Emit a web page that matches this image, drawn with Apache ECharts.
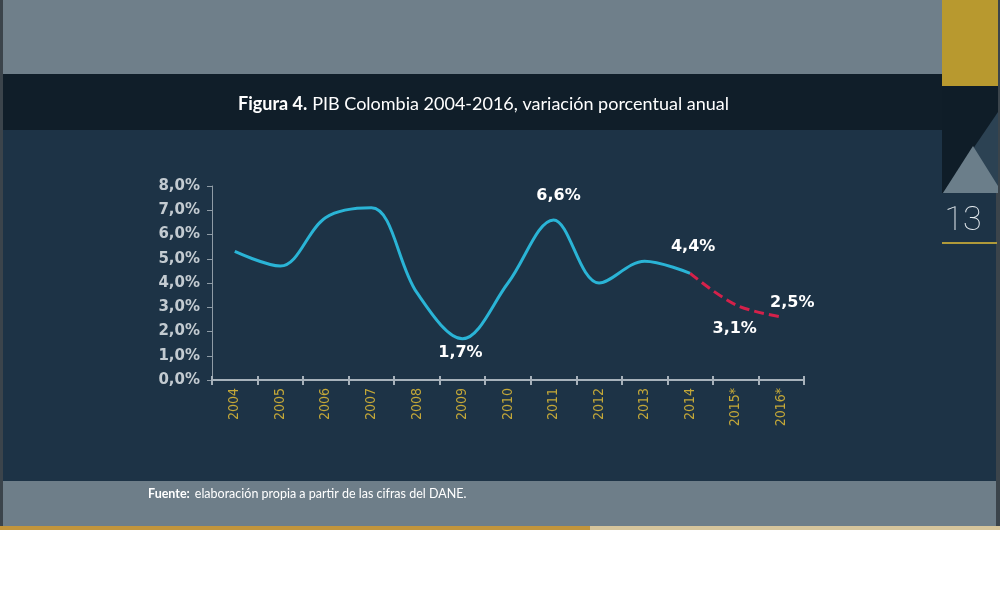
<!DOCTYPE html>
<html>
<head>
<meta charset="utf-8">
<script src="https://cdn.jsdelivr.net/npm/echarts@6/dist/echarts.min.js"></script>
<style>
html,body{margin:0;padding:0;background:#ffffff;}
#chart{width:1000px;height:615px;}
</style>
</head>
<body>
<div id="chart"></div>
<script>
// ---- data ----
const categories = ['2004','2005','2006','2007','2008','2009','2010','2011','2012','2013','2014','2015*','2016*'];
const gdpObserved = [5.3, 4.7, 6.7, 7.1, 3.6, 1.7, 4.0, 6.6, 4.0, 4.9, 4.4, null, null];
const gdpProjected = [null, null, null, null, null, null, null, null, null, null, 4.4, 3.1, 2.6];
const pointLabels = ['', '', '', '', '', '1,7%', '', '6,6%', '', '', '4,4%', '3,1%', '2,5%'];
const titleBold = 'Figura 4.';
const titleRest = 'PIB Colombia 2004-2016, variación porcentual anual';
const sourceBold = 'Fuente:';
const sourceRest = 'elaboración propia a partir de las cifras del DANE.';
const pageNumber = '13';

// ---- presentation ----
const labelOffset = {5: [-2, 14], 7: [5, -24], 10: [3, -26], 11: [-1, 24], 12: [11, -14]};
const labelStyle = {
  color: '#ffffff', fontFamily: 'DejaVu Sans', fontWeight: 'bold', fontSize: 16
};

function buildData(values, labelOwner) {
  return values.map((v, i) => {
    if (v === null) return null;
    const item = {value: v};
    if (labelOwner(i) && pointLabels[i]) {
      item.label = Object.assign({
        show: true,
        position: 'inside',
        offset: labelOffset[i] || [0, 0],
        formatter: () => pointLabels[i]
      }, labelStyle);
    }
    return item;
  });
}

const chart = echarts.init(document.getElementById('chart'), null, {renderer: 'canvas'});

const bgRects = [
  {shape: {x: 0, y: 0, width: 1000, height: 530}, color: '#3b444b'},
  {shape: {x: 3, y: 0, width: 939, height: 74}, color: '#6f7f8a'},
  {shape: {x: 3, y: 74, width: 939, height: 56}, color: '#101e29'},
  {shape: {x: 3, y: 130, width: 993, height: 351}, color: '#1d3346'},
  {shape: {x: 3, y: 481, width: 993, height: 45}, color: '#6e7e89'},
  {shape: {x: 0, y: 526, width: 590, height: 4}, color: '#c2953c'},
  {shape: {x: 590, y: 526, width: 410, height: 4}, color: '#d6c59c'},
  {shape: {x: 942, y: 0, width: 56, height: 86}, color: '#b8992f'},
  {shape: {x: 942, y: 86, width: 56, height: 107}, color: '#0f1d28'},
  {shape: {x: 942, y: 242, width: 55, height: 2}, color: '#b09a3a'}
];

const graphics = bgRects.map(r => ({
  type: 'rect', silent: true, z: -10, shape: r.shape, style: {fill: r.color}
}));
graphics.push({
  type: 'polygon', silent: true, z: -9,
  shape: {points: [[943, 193], [998, 112], [998, 193]]},
  style: {fill: '#2c4253'}
});
graphics.push({
  type: 'polygon', silent: true, z: -8,
  shape: {points: [[943, 193], [973, 146], [998, 186], [998, 193]]},
  style: {fill: '#6b7e8a'}
});
graphics.push({
  type: 'text', silent: true, z: 5,
  style: {
    x: 963, y: 221, text: pageNumber, fill: '#e8eef2',
    font: '100 34px Roboto', textAlign: 'center', textVerticalAlign: 'middle'
  }
});

chart.setOption({
  animation: false,
  backgroundColor: '#ffffff',
  graphic: graphics,
  title: [
    {
      left: 233, top: 90,
      text: '{b|' + titleBold + '} {r|' + titleRest + '}',
      textStyle: {
        rich: {
          b: {color: '#ffffff', fontFamily: 'Lato', fontWeight: 'bold', fontSize: 18},
          r: {color: '#ffffff', fontFamily: 'Lato', fontWeight: 'normal', fontSize: 18}
        }
      }
    },
    {
      left: 143, top: 480,
      text: '{b|' + sourceBold + '} {r|' + sourceRest + '}',
      textStyle: {
        rich: {
          b: {color: '#ffffff', fontFamily: 'Lato', fontWeight: 'bold', fontSize: 12.5},
          r: {color: '#ffffff', fontFamily: 'Lato', fontWeight: 'normal', fontSize: 12.5}
        }
      }
    }
  ],
  grid: {left: 212, right: 196, top: 186, bottom: 235, containLabel: false},
  xAxis: [
    {
      type: 'category', data: categories, boundaryGap: true,
      axisLine: {show: true, lineStyle: {color: '#a7b2bb', width: 2}},
      axisTick: {show: true, interval: 0, length: 5, lineStyle: {color: '#a7b2bb', width: 2}},
      axisLabel: {
        interval: 0, rotate: 90, margin: 8,
        color: '#c4a838', fontFamily: '"DejaVu Sans Condensed", "Liberation Sans", sans-serif', fontSize: 14
      },
      splitLine: {show: false}
    },
    {
      type: 'category', data: categories, boundaryGap: true, position: 'bottom',
      axisLine: {show: false},
      axisTick: {show: true, inside: true, interval: 0, length: 4, lineStyle: {color: '#a7b2bb', width: 2}},
      axisLabel: {show: false},
      splitLine: {show: false}
    }
  ],
  yAxis: {
    type: 'value', min: 0, max: 8, interval: 1,
    axisLine: {show: true, lineStyle: {color: '#8f9ca6', width: 1}},
    axisTick: {show: true, length: 5, lineStyle: {color: '#8f9ca6'}},
    splitLine: {show: false},
    axisLabel: {
      margin: 12, color: '#c3cbd1', fontFamily: 'DejaVu Sans', fontWeight: 'bold', fontSize: 15,
      formatter: v => v.toFixed(1).replace('.', ',') + '%'
    }
  },
  series: [
    {
      type: 'line', name: 'PIB', xAxisIndex: 0,
      data: buildData(gdpObserved, i => i <= 10),
      smooth: 0.35, connectNulls: false,
      symbol: 'circle', symbolSize: 2, showSymbol: true,
      itemStyle: {color: 'rgba(0,0,0,0)', borderWidth: 0},
      lineStyle: {color: '#2ab4d6', width: 3},
      z: 3
    },
    {
      type: 'line', name: 'Proyección', xAxisIndex: 0,
      data: buildData(gdpProjected, i => i >= 11),
      smooth: 0.35, connectNulls: false,
      symbol: 'circle', symbolSize: 2, showSymbol: true,
      itemStyle: {color: 'rgba(0,0,0,0)', borderWidth: 0},
      lineStyle: {color: '#d4214a', width: 3, type: [10, 5]},
      z: 4
    }
  ]
});
</script>
</body>
</html>
